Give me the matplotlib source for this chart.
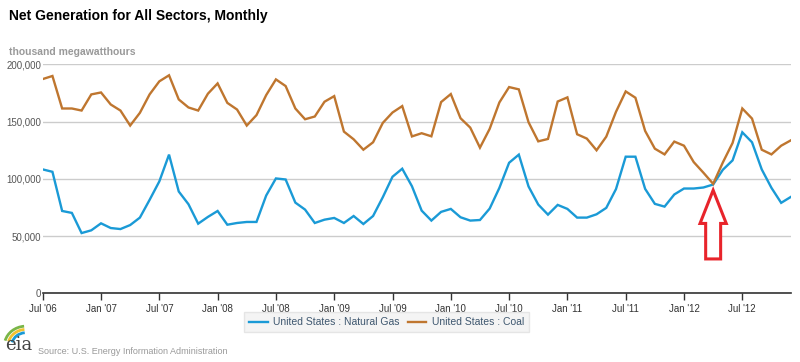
import matplotlib
matplotlib.use("Agg")
import numpy as np
import matplotlib.pyplot as plt
from matplotlib.patches import Polygon, Arc
from matplotlib.ticker import FuncFormatter

plt.rcParams["font.family"] = ["Liberation Sans", "DejaVu Sans"]

# monthly values, Jul 2006 .. Dec 2012 (thousand MWh)
natural_gas = [
    108.2, 106.1, 71.9, 70.2, 52.6, 55.0, 61.1, 57.0, 56.1, 59.6, 66.1, 81.6,
    97.7, 121.1, 88.9, 77.8, 60.8, 66.7, 71.9, 59.9, 61.4, 62.3, 62.3, 85.4,
    100.3, 99.4, 79.2, 73.1, 61.4, 64.3, 65.8, 61.4, 67.5, 60.5, 67.5, 83.9,
    101.8, 108.8, 93.5, 72.2, 63.5, 71.1, 73.7, 66.4, 63.5, 64.0, 74.0, 92.1,
    114.0, 121.1, 93.3, 77.5, 68.7, 77.2, 73.7, 66.1, 66.1, 69.0, 74.6, 91.0,
    119.3, 119.3, 91.2, 78.1, 75.7, 86.3, 91.5, 91.5, 92.4, 95.0, 107.9, 116.1,
    140.6, 131.9, 108.2, 92.1, 79.0, 84.2,
]
coal = [
    187.1, 189.8, 161.4, 161.4, 159.6, 173.7, 175.4, 164.9, 159.6, 146.5, 157.6, 173.7,
    185.1, 190.4, 169.3, 162.3, 159.6, 174.3, 183.3, 166.3, 160.5, 146.5, 155.6, 173.1,
    186.8, 181.0, 161.4, 152.0, 154.4, 167.3, 172.2, 141.2, 134.5, 125.4, 131.9, 148.8,
    157.9, 163.5, 137.0, 139.8, 137.1, 167.0, 174.0, 152.9, 144.7, 127.2, 143.6, 166.7,
    180.1, 178.1, 149.4, 132.7, 134.8, 167.5, 171.1, 138.9, 135.1, 124.9, 136.8, 158.5,
    176.3, 170.8, 141.8, 126.3, 121.3, 132.5, 128.9, 114.6, 105.3, 95.6, 114.3, 131.3,
    161.4, 152.6, 125.4, 121.3, 128.9, 133.6,
]
tick_labels = ["Jul '06", "Jan '07", "Jul '07", "Jan '08", "Jul '08", "Jan '09",
               "Jul '09", "Jan '10", "Jul '10", "Jan '11", "Jul '11", "Jan '12",
               "Jul '12"]
arrow_month = 69  # Apr 2012, where coal meets gas

gas_color = "#1a9ad6"
coal_color = "#bf762f"

months = np.arange(len(coal))
gas_vals = np.array(natural_gas) * 1000
coal_vals = np.array(coal) * 1000

fig = plt.figure(figsize=(8, 3.62), dpi=100)
ax = fig.add_axes([0.0534, 0.1898, 0.9352, 0.6326])

ax.plot(months, gas_vals, color=gas_color, lw=1.7, label="United States : Natural Gas",
        solid_joinstyle="miter", zorder=3)
ax.plot(months, coal_vals, color=coal_color, lw=1.7, label="United States : Coal",
        solid_joinstyle="miter", zorder=3)

ax.set_xlim(0, len(coal) - 1)
ax.set_ylim(0, 200000)
ax.set_yticks([0, 50000, 100000, 150000, 200000])
ax.yaxis.set_major_formatter(FuncFormatter(lambda v, p: f"{int(v):,}"))
ax.set_xticks(np.arange(0, len(coal), 6))
ax.set_xticklabels(tick_labels)
ax.grid(axis="y", color="#cccccc", lw=1)
ax.set_axisbelow(True)
for s in ["top", "right", "left"]:
    ax.spines[s].set_visible(False)
ax.spines["bottom"].set_color("#333333")
ax.spines["bottom"].set_linewidth(1.2)
ax.tick_params(axis="y", length=0, labelsize=7, labelcolor="#555555", pad=1)
ax.tick_params(axis="x", length=5, width=1, color="#333333", labelsize=7,
               labelcolor="#333333", pad=3)

# red hand-drawn style arrow pointing at the crossing
tip_y = 90000
pts = [(arrow_month, tip_y),
       (arrow_month + 1.35, 61000), (arrow_month + 0.77, 61000),
       (arrow_month + 0.77, 30000), (arrow_month - 0.77, 30000),
       (arrow_month - 0.77, 61000), (arrow_month - 1.35, 61000)]
ax.add_patch(Polygon(pts, closed=True, facecolor="white", edgecolor="#e8242b",
                     lw=2.2, joinstyle="miter", zorder=4))

fig.text(0.011, 0.955, "Net Generation for All Sectors, Monthly", fontsize=10,
         fontweight="bold", color="black", va="center")
fig.text(0.011, 0.855, "thousand megawatthours", fontsize=7.5, fontweight="bold",
         color="#999999", va="center")

leg = fig.legend(loc="center", bbox_to_anchor=(0.483, 0.11), ncol=2, fontsize=7.5,
                 frameon=True, fancybox=False, handlelength=1.8, columnspacing=0.8,
                 handletextpad=0.5, borderpad=0.45)
leg.get_frame().set_facecolor("#f2f2f2")
leg.get_frame().set_edgecolor("#e0e0e0")
for t in leg.get_texts():
    t.set_color("#3e576f")

# eia logo + source
fig.text(0.006, 0.022, "eia", fontsize=13, family="DejaVu Serif", color="#444444",
         va="bottom")
logo_ax = fig.add_axes([0.004, 0.045, 0.03, 0.06])
logo_ax.set_xlim(0, 1)
logo_ax.set_ylim(0, 1)
logo_ax.axis("off")
for r, c in [(0.9, "#7ab648"), (0.75, "#f2c230"), (0.6, "#1a9ad6")]:
    logo_ax.add_patch(Arc((0.95, 0.0), 2 * r, 2 * r, theta1=95, theta2=165, color=c, lw=2))
fig.text(0.047, 0.03, "Source: U.S. Energy Information Administration", fontsize=6.5,
         color="#999999", va="center")

fig.savefig("out.png", dpi=100)
